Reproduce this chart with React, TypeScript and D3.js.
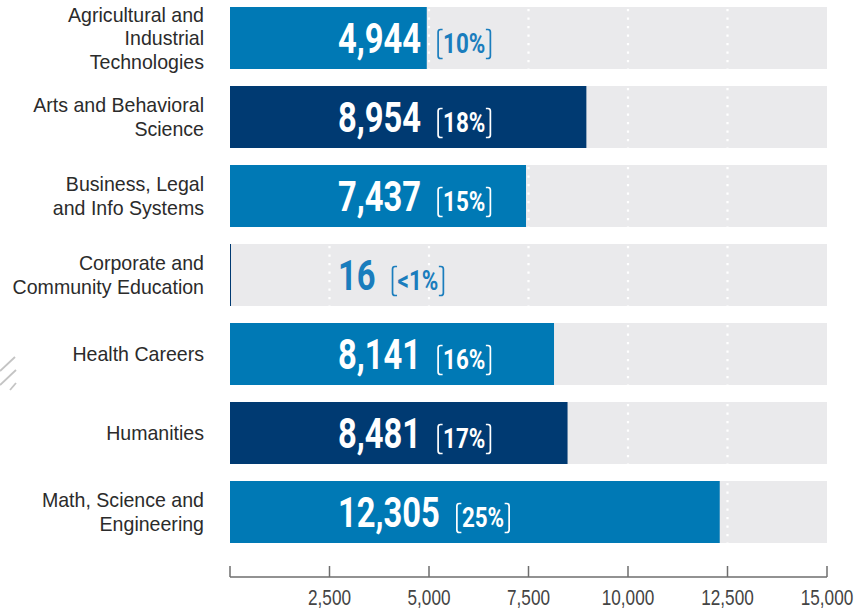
import React, { useEffect, useRef } from "react";
import * as d3 from "d3";

const categories: string[][] = [
  ["Agricultural and", "Industrial", "Technologies"],
  ["Arts and Behavioral", "Science"],
  ["Business, Legal", "and Info Systems"],
  ["Corporate and", "Community Education"],
  ["Health Careers"],
  ["Humanities"],
  ["Math, Science and", "Engineering"],
];
const values: number[] = [4944, 8954, 7437, 16, 8141, 8481, 12305];
const percents: string[] = ["10%", "18%", "15%", "<1%", "16%", "17%", "25%"];
const shades: string[] = ["light", "dark", "light", "dark", "light", "dark", "light"];
const ticks: number[] = [0, 2500, 5000, 7500, 10000, 12500, 15000];

const W = 868;
const H = 610;
const LIGHT = "#0079b5";
const DARK = "#003a72";
const BG = "#eaeaec";
const TXT_BLUE = "#1a7dbd";
const BOLD_FONT = "Roboto, 'Liberation Sans', sans-serif";
const REG_FONT = "'Liberation Sans', Arial, sans-serif";

export default function App() {
  const ref = useRef<SVGSVGElement>(null);

  useEffect(() => {
    const svg = d3.select(ref.current);
    svg.selectAll("*").remove();

    const x = d3.scaleLinear().domain([0, 15000]).range([230, 827]);
    const y = d3
      .scaleBand<number>()
      .domain(d3.range(values.length))
      .range([7, 543])
      .paddingInner(17 / 79)
      .paddingOuter(0);
    const bw = y.bandwidth();

    const g = svg.append("g");

    // hatch decoration
    const hatch = [
      [0, 371, 15, 357],
      [0, 385, 16, 370],
      [10, 390, 16, 383],
    ];
    g.selectAll("line.hatch")
      .data(hatch)
      .enter()
      .append("line")
      .attr("x1", (d) => d[0])
      .attr("y1", (d) => d[1])
      .attr("x2", (d) => d[2])
      .attr("y2", (d) => d[3])
      .attr("stroke", "#c4c4c4")
      .attr("stroke-width", 1.8);

    // backgrounds
    g.selectAll("rect.bg")
      .data(values)
      .enter()
      .append("rect")
      .attr("x", x(0))
      .attr("y", (_, i) => y(i)!)
      .attr("width", x(15000) - x(0))
      .attr("height", bw)
      .attr("fill", BG);

    // dotted grid lines
    const gridTicks = ticks.filter((t) => t > 0 && t < 15000);
    values.forEach((_, i) => {
      gridTicks.forEach((t) => {
        g.append("line")
          .attr("x1", x(t))
          .attr("x2", x(t))
          .attr("y1", y(i)! + 2)
          .attr("y2", y(i)! + bw)
          .attr("stroke", "#ffffff")
          .attr("stroke-width", 2.2)
          .attr("stroke-dasharray", "2.2,6.3");
      });
    });

    // bars
    g.selectAll("rect.bar")
      .data(values)
      .enter()
      .append("rect")
      .attr("x", x(0))
      .attr("y", (_, i) => y(i)!)
      .attr("width", (d) => Math.max(1, x(d) - x(0)))
      .attr("height", bw)
      .attr("fill", (_, i) => (shades[i] === "dark" ? DARK : LIGHT));

    // category labels
    categories.forEach((lines, i) => {
      const cy = y(i)! + bw / 2;
      const lh = 23.5;
      lines.forEach((line, j) => {
        const by = cy + 7 - ((lines.length - 1) / 2) * lh + j * lh;
        g.append("text")
          .attr("transform", `translate(204,${by}) scale(0.955,1)`)
          .attr("text-anchor", "end")
          .attr("font-family", REG_FONT)
          .attr("font-size", 20.5)
          .attr("fill", "#2b2b2b")
          .text(line);
      });
    });

    // value labels
    const vsx = 0.77;
    const psx = 0.8;
    values.forEach((v, i) => {
      const top = y(i)!;
      const base = top + 45.5;
      const barEnd = x(v);
      const vx = 338;
      const vt = g
        .append("text")
        .attr("transform", `translate(${vx},${base}) scale(${vsx},1)`)
        .attr("font-family", BOLD_FONT)
        .attr("font-weight", "bold")
        .attr("font-size", 42.5)
        .text(d3.format(",")(v));
      const vw = (vt.node() as SVGTextElement).getComputedTextLength() * vsx;
      vt.attr("fill", vx + vw <= barEnd ? "#ffffff" : TXT_BLUE);

      const lbx = vx + vw + 17;
      const pt = g
        .append("text")
        .attr("font-family", BOLD_FONT)
        .attr("font-weight", "bold")
        .attr("font-size", 28)
        .text(percents[i]);
      const pw = (pt.node() as SVGTextElement).getComputedTextLength() * psx;
      const ptx = lbx + 5;
      pt.attr("transform", `translate(${ptx},${base}) scale(${psx},1)`);
      const rbx = ptx + pw + 5;
      const inside = rbx <= barEnd;
      const col = inside ? "#ffffff" : TXT_BLUE;
      pt.attr("fill", col);
      const bt = top + 22.5;
      const bb = top + 51.5;
      const r = 2.5;
      const bx = 4.5;
      g.append("path")
        .attr(
          "d",
          `M${lbx + bx},${bt} L${lbx + r},${bt} Q${lbx},${bt} ${lbx},${bt + r} L${lbx},${bb - r} Q${lbx},${bb} ${lbx + r},${bb} L${lbx + bx},${bb}`
        )
        .attr("fill", "none")
        .attr("stroke", col)
        .attr("stroke-width", 1.7);
      g.append("path")
        .attr(
          "d",
          `M${rbx - bx},${bt} L${rbx - r},${bt} Q${rbx},${bt} ${rbx},${bt + r} L${rbx},${bb - r} Q${rbx},${bb} ${rbx - r},${bb} L${rbx - bx},${bb}`
        )
        .attr("fill", "none")
        .attr("stroke", col)
        .attr("stroke-width", 1.7);
    });

    // axis
    const ay = 577;
    g.append("line")
      .attr("x1", x(0))
      .attr("x2", x(15000))
      .attr("y1", ay)
      .attr("y2", ay)
      .attr("stroke", "#6e6e6e")
      .attr("stroke-width", 1.5);
    ticks.forEach((t) => {
      g.append("line")
        .attr("x1", x(t))
        .attr("x2", x(t))
        .attr("y1", ay - 11)
        .attr("y2", ay)
        .attr("stroke", "#6e6e6e")
        .attr("stroke-width", 1.5);
      if (t > 0) {
        g.append("text")
          .attr("transform", `translate(${x(t)},605) scale(0.78,1)`)
          .attr("text-anchor", "middle")
          .attr("font-family", REG_FONT)
          .attr("font-size", 22)
          .attr("fill", "#444")
          .text(d3.format(",")(t));
      }
    });
  }, []);

  return (
    <svg
      ref={ref}
      width={W}
      height={H}
      style={{ position: "absolute", left: 0, top: 0, background: "#fff" }}
    />
  );
}
